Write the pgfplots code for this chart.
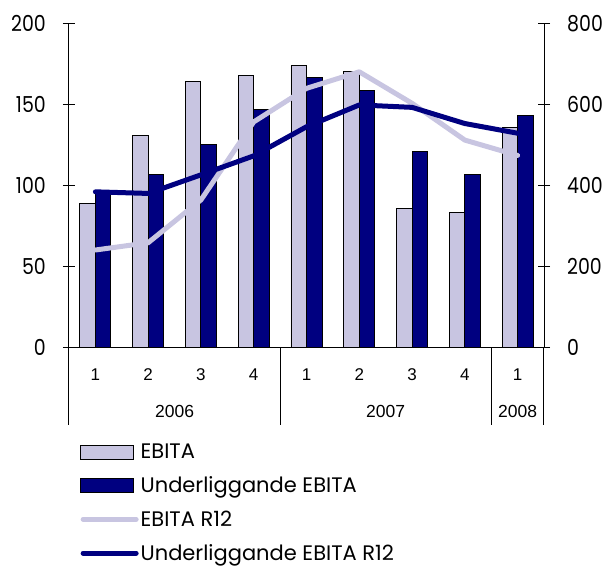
\documentclass[border=0pt]{standalone}
\usepackage{pgfplots}
\pgfplotsset{compat=1.18}
\usepackage{fontspec}
\setmainfont{Poppins}
\newfontfamily\tickfont[FakeStretch=0.86]{Poppins}
\newfontfamily\catfont{Liberation Sans}
\definecolor{ebitalight}{RGB}{200,197,225}
\definecolor{ebitadark}{RGB}{0,0,128}
\pgfplotsset{
  wideline/.style={legend image code/.code={\draw[##1] (2.5pt,0pt) -- (55.5pt,0pt);}},
  widebar/.style={legend image code/.code={\draw[##1] (0pt,-7pt) rectangle (53pt,7pt);}},
}

\begin{document}
\begin{tikzpicture}[x=1pt,y=1pt]
\pgfplotsset{
  base/.style={
    scale only axis, width=475pt, height=323.3pt,
    at={(69pt,-347pt)}, anchor=south west,
    xmin=-0.5, xmax=8.5,
    xtick={0,...,8},
    tick align=center, major tick length=12pt,
    axis line style={line width=1pt, black, -},
    every tick/.style={black, line width=1pt},
    clip=false,
    /pgf/number format/assume math mode=true,
    yticklabel style={font=\tickfont\fontsize{22}{22}\selectfont, inner sep=0pt},
  }
}
\begin{axis}[base,
  ymin=0, ymax=200, ytick={0,50,...,200},
  axis y line*=left, axis x line*=bottom,
  ytick pos=left, xtick pos=bottom,
  xtick style={draw=none},
  xticklabels={1,2,3,4,1,2,3,4,1},
  xticklabel style={font=\catfont\fontsize{17}{17}\selectfont, anchor=center, inner sep=0pt, yshift=-16pt},
  yticklabel style={anchor=east, xshift=-17pt},
  ybar=0pt, bar width=15.5pt]
\addplot[fill=ebitalight, draw=black, line width=0.9pt] coordinates
  {(0,89) (1,131) (2,164.5) (3,168) (4,174) (5,170.5) (6,85.5) (7,83) (8,136)};
\addplot[fill=ebitadark, draw=black, line width=0.9pt] coordinates
  {(0,95) (1,106.5) (2,125) (3,147) (4,167) (5,158.5) (6,121) (7,106.5) (8,143.5)};
% year groups below the quarter labels
\draw[line width=1pt] (axis cs:-0.5,0) -- ++(0pt,-78pt);
\draw[line width=1pt] (axis cs:3.5,0) -- ++(0pt,-78pt);
\draw[line width=1pt] (axis cs:7.5,0) -- ++(0pt,-78pt);
\draw[line width=1pt] (axis cs:8.5,0) -- ++(0pt,-78pt);
\path[font=\catfont\fontsize{17.5}{17.5}\selectfont, inner sep=0pt]
  (axis cs:1.5,0) ++(0pt,-64.7pt) node {2006}
  (axis cs:5.5,0) ++(0pt,-64.7pt) node {2007}
  (axis cs:8,0)   ++(0pt,-64.7pt) node {2008};
\end{axis}

\begin{axis}[base,
  ymin=0, ymax=800, ytick={0,200,...,800},
  axis y line*=right, ytick pos=right, yticklabel pos=right,
  hide x axis,
  yticklabel style={anchor=west, xshift=17pt},
  legend style={at={(0,0)}, anchor=north west, xshift=11pt, yshift=-95pt,
    draw=none, fill=none, inner sep=0pt,
    font=\fontsize{21}{21}\selectfont, row sep=12.5pt,
    cells={anchor=west}},
  legend cell align=left]
\addlegendimage{widebar, fill=ebitalight, draw=black, line width=0.9pt}
\addlegendentry{EBITA}
\addlegendimage{widebar, fill=ebitadark, draw=black, line width=0.9pt}
\addlegendentry{Underliggande EBITA}
\addplot[ebitalight, line width=5pt, line join=round, line cap=round, wideline]
  coordinates {(0,240) (1,258) (2,364) (3,557) (4,640) (5,681) (6,603) (7,512) (8,474)};
\addlegendentry{EBITA R12}
\addplot[ebitadark, line width=5pt, line join=round, line cap=round, wideline]
  coordinates {(0,384) (1,380) (2,426) (3,473) (4,545) (5,599) (6,593) (7,553) (8,529)};
\addlegendentry{Underliggande EBITA R12}
\end{axis}
\pgfresetboundingbox
\path[use as bounding box] (0,0) rectangle (605,-567);
\end{tikzpicture}
\end{document}
